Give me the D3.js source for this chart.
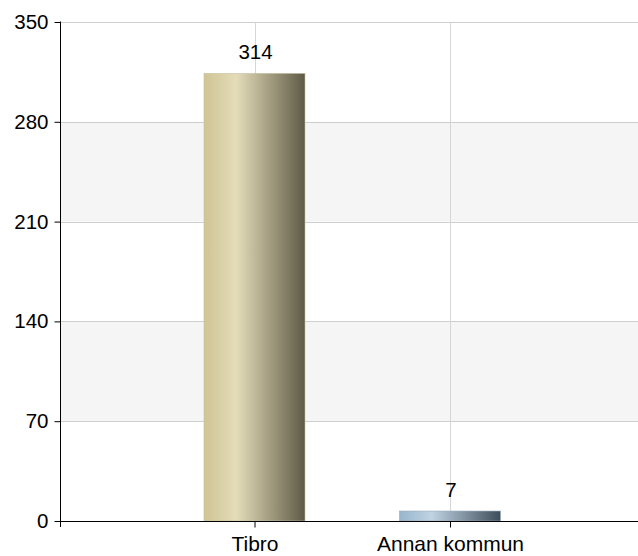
<!DOCTYPE html>
<html><head><meta charset="utf-8">
<script src="https://cdn.jsdelivr.net/npm/d3@7"></script>
<style>body{margin:0;background:#fff}svg{display:block}text{font-family:"Liberation Sans",Arial,sans-serif}</style>
</head><body><svg id="c" width="638" height="556"></svg>
<script>
const categories = ["Tibro", "Annan kommun"];
const values = [314, 7];
const yTicks = [0, 70, 140, 210, 280, 350];
const gradStops = [
  [["0%","#cfc495"],["32%","#e4dcb9"],["100%","#5f5a46"]],
  [["0%","#97b5cd"],["32%","#c0d3e3"],["100%","#3d4c59"]]
];

const svg = d3.select("#c");
const L = 60.5, R = 638, T = 22, B = 521;
const y = d3.scaleLinear().domain([0, 350]).range([B, T]);
const x = d3.scalePoint().domain(categories).range([59, 645.5]).padding(1);
const bw = 101;

const defs = svg.append("defs");
gradStops.forEach((st, i) => {
  const g = defs.append("linearGradient").attr("id", "g" + i).attr("x1", "0").attr("x2", "1").attr("y1", "0").attr("y2", "0");
  st.forEach(s => g.append("stop").attr("offset", s[0]).attr("stop-color", s[1]));
});

for (let i = 0; i < yTicks.length - 1; i++) {
  if (i % 2 === 1) {
    svg.append("rect").attr("x", L).attr("width", R - L)
      .attr("y", y(yTicks[i + 1])).attr("height", y(yTicks[i]) - y(yTicks[i + 1]))
      .attr("fill", "#f5f5f5");
  }
}
svg.selectAll(".hg").data(yTicks.filter(d => d > 0)).enter().append("line")
  .attr("x1", L).attr("x2", R).attr("y1", d => Math.round(y(d)) + 0.5).attr("y2", d => Math.round(y(d)) + 0.5)
  .attr("stroke", "#cfcfcf").attr("stroke-width", 1);
svg.selectAll(".vg").data(categories).enter().append("line")
  .attr("x1", d => Math.round(x(d)) + 0.5).attr("x2", d => Math.round(x(d)) + 0.5)
  .attr("y1", T).attr("y2", B).attr("stroke", "#d6d6d6");

svg.selectAll(".bar").data(values).enter().append("rect")
  .attr("x", (d, i) => x(categories[i]) - bw / 2).attr("width", bw)
  .attr("y", d => y(d)).attr("height", d => B - y(d))
  .attr("fill", (d, i) => `url(#g${i})`)
  .attr("stroke", (d, i) => i === 0 ? "#c9c3a4" : "#9aaab8").attr("stroke-width", 0.6);

svg.selectAll(".vl").data(values).enter().append("text")
  .attr("x", (d, i) => x(categories[i]) + 1).attr("y", d => y(d) - 14)
  .attr("text-anchor", "middle").attr("font-size", 20.5).attr("fill", "#000")
  .text(d => d);

const ya = svg.append("g").attr("transform", `translate(${L},0)`)
  .call(d3.axisLeft(y).tickValues(yTicks).tickSize(6).tickPadding(6).tickSizeOuter(0));
ya.select(".domain").remove();
ya.selectAll(".tick line").attr("stroke", "#000");
ya.selectAll("text").attr("font-size", 20.5).attr("fill", "#000").attr("font-family", "Liberation Sans, Arial, sans-serif");
svg.append("line").attr("x1", L).attr("x2", L).attr("y1", T - 0.5).attr("y2", 527).attr("stroke", "#000");

const xa = svg.append("g").attr("transform", `translate(0,${B + 0.5})`)
  .call(d3.axisBottom(x).tickSize(6).tickPadding(9).tickSizeOuter(0));
xa.select(".domain").remove();
xa.selectAll(".tick line").attr("stroke", "#000");
xa.selectAll("text").attr("font-size", 21).attr("fill", "#000").attr("font-family", "Liberation Sans, Arial, sans-serif");
svg.append("line").attr("x1", L).attr("x2", R).attr("y1", B + 0.5).attr("y2", B + 0.5).attr("stroke", "#000");
</script></body></html>
